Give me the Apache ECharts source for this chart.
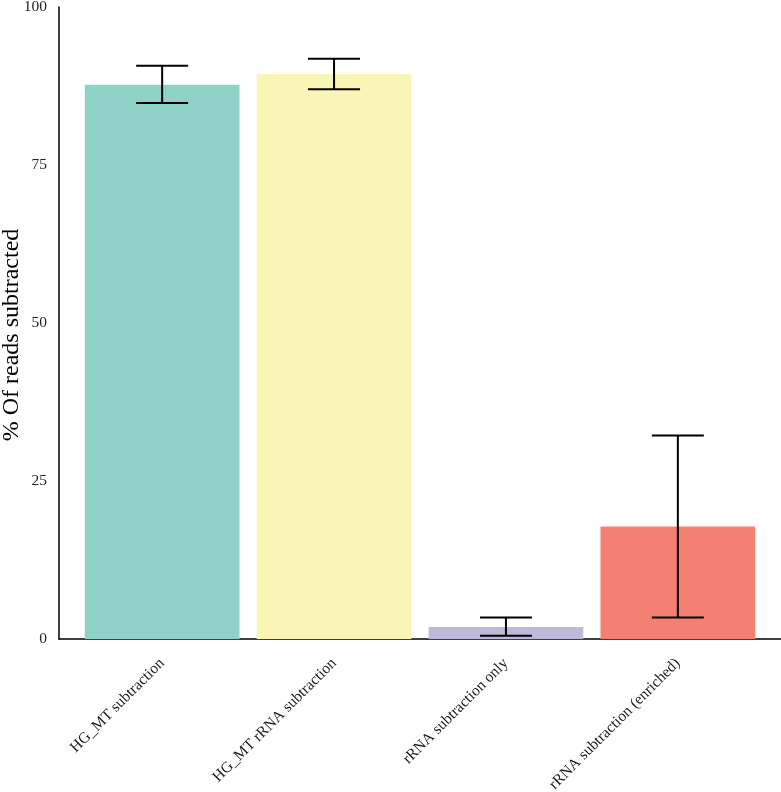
<!DOCTYPE html>
<html>
<head>
<meta charset="utf-8">
<script src="https://cdn.jsdelivr.net/npm/echarts@6/dist/echarts.min.js"></script>
<style>html,body{margin:0;padding:0;background:#fff}#c{width:781px;height:792px}</style>
</head>
<body>
<div id="c"></div>
<script>
const categories = ['HG_MT subtraction', 'HG_MT rRNA subtraction', 'rRNA subtraction only', 'rRNA subtraction (enriched)'];
const values = [87.7, 89.4, 1.9, 17.8];
const lower = [84.8, 87.0, 0.5, 3.4];
const upper = [90.7, 91.8, 3.4, 32.2];
const colors = ['#8ED1C6', '#F9F5B5', '#BDBAD9', '#F48074'];
const yTicks = [0, 25, 50, 75, 100];

const chart = echarts.init(document.getElementById('c'));
const font = 'Liberation Serif';
chart.setOption({
  animation: false,
  grid: [
    {left: 59, right: 0, top: 7, bottom: 153, containLabel: false, outerBoundsMode: 'none'},
    {left: 76.2, right: 17.2, top: 7, bottom: 153, containLabel: false, outerBoundsMode: 'none'}
  ],
  xAxis: [
    {gridIndex: 0, type: 'value', min: 0, max: 1,
     axisLine: {show: true, onZero: false, lineStyle: {color: '#000', width: 1.5}},
     axisTick: {show: false}, axisLabel: {show: false}, splitLine: {show: false}},
    {gridIndex: 1, type: 'category', data: categories,
     axisLine: {show: false}, axisTick: {show: false}, splitLine: {show: false},
     axisLabel: {rotate: 45, margin: 22, fontFamily: font, fontSize: 15.5, color: '#1a1a1a', interval: 0}}
  ],
  yAxis: [
    {gridIndex: 0, type: 'value', min: yTicks[0], max: yTicks[yTicks.length - 1], interval: 25,
     axisLine: {show: true, lineStyle: {color: '#000', width: 1.5}},
     axisTick: {show: false}, splitLine: {show: false},
     axisLabel: {fontFamily: font, fontSize: 15.5, color: '#222', margin: 12},
     name: '% Of reads subtracted', nameLocation: 'middle', nameGap: 35, nameMoveOverlap: false,
     nameTextStyle: {fontFamily: font, fontSize: 24, color: '#000', padding: [0, 24, 0, 0]}},
    {gridIndex: 1, type: 'value', min: 0, max: 100, show: false}
  ],
  series: [
    {type: 'bar', xAxisIndex: 1, yAxisIndex: 1, barWidth: '90%', z: 2,
     data: values.map((v, i) => ({value: v, itemStyle: {color: colors[i]}}))},
    {type: 'custom', xAxisIndex: 1, yAxisIndex: 1, z: 5,
     data: lower.map((l, i) => [i, l, upper[i]]),
     renderItem: function (params, api) {
       const lo = api.coord([api.value(0), api.value(1)]);
       const hi = api.coord([api.value(0), api.value(2)]);
       const hw = 26;
       const st = {stroke: '#000', lineWidth: 2};
       return {type: 'group', children: [
         {type: 'line', shape: {x1: hi[0], y1: hi[1], x2: lo[0], y2: lo[1]}, style: st},
         {type: 'line', shape: {x1: hi[0] - hw, y1: hi[1], x2: hi[0] + hw, y2: hi[1]}, style: st},
         {type: 'line', shape: {x1: lo[0] - hw, y1: lo[1], x2: lo[0] + hw, y2: lo[1]}, style: st}
       ]};
     }}
  ]
});
</script>
</body>
</html>
